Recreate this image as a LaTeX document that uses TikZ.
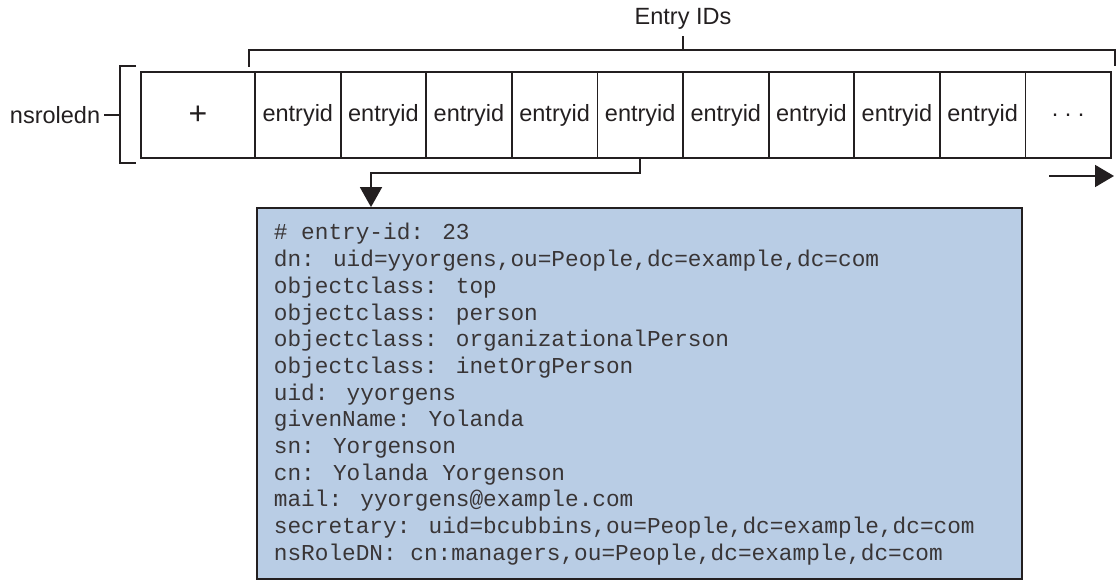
\documentclass[tikz,border=0pt]{standalone}
\usepackage{fontspec}
\setmainfont{Liberation Sans}
\newfontfamily\monofont{Liberation Mono}
\usetikzlibrary{arrows.meta}
\definecolor{ink}{RGB}{35,31,32}
\definecolor{boxblue}{RGB}{185,205,229}
\begin{document}
\begin{tikzpicture}[x=1pt,y=-1pt,
  line width=1.8pt, draw=ink,
  lbl/.style={font=\fontsize{23.5}{28}\selectfont, text=ink, inner sep=0pt},
  cellbox/.style={draw=ink, line width=1.8pt, minimum height=86pt, inner sep=0pt, font=\fontsize{23.5}{28}\selectfont, text=ink},
  idcell/.style={cellbox, minimum width=85.6pt},
  code/.style={font=\monofont\fontsize{22.75}{26.7}\selectfont, text=ink!90, inner sep=0pt, anchor=base west},
  conn/.style={draw=ink, line width=1.8pt},
  tip/.style={-{Triangle[length=20pt,width=22pt]}}
]
\useasboundingbox (0,0) rectangle (1117,580);

% row of cells
\node[cellbox, minimum width=114pt] (plus) at (198,115) {\fontsize{32}{36}\selectfont +};
\foreach \k in {1,...,9} {
  \node[idcell] (e\k) at ({255+85.6*(\k-1)+42.8},115) {entryid};
}
\node[idcell] (dots) at ({255+85.6*9+42.8},115) {.\ .\ .};

% left bracket and label
\coordinate (lb1) at (136,66);
\coordinate (lb2) at (120,66);
\coordinate (lb3) at (120,163);
\coordinate (lb4) at (136,163);
\coordinate (lbm) at (120,115);
\coordinate (lbt) at (104,115);
\draw[conn] (lb1) -- (lb2) -- (lb3) -- (lb4);
\node[lbl, anchor=east] (nsr) at (101,115) {nsroledn};
\draw[conn] (lbt) -- (lbm);

% top bracket and label
\coordinate (tb1) at (249,67);
\coordinate (tb2) at (249,50);
\coordinate (tb3) at (1115,50);
\coordinate (tb4) at (1115,66);
\coordinate (tbm) at (683,50);
\coordinate (tbt) at (683,36);
\draw[conn] (tb1) -- (tb2) -- (tb3) -- (tb4);
\draw[conn] (tbm) -- (tbt);
\node[lbl, anchor=base] (eids) at (683,25) {Entry IDs};

% entry box
\node[draw=ink, line width=1.8pt, fill=boxblue, minimum width=765pt, minimum height=371pt, inner sep=0pt] (rec) at (639.5,393.5) {};
\node[code] (l1) at (273,240) {\# entry-id: 23};
\node[code] (l2) at (273,266.7) {dn: uid=yyorgens,ou=People,dc=example,dc=com};
\node[code] (l3) at (273,293.3) {objectclass: top};
\node[code] (l4) at (273,320) {objectclass: person};
\node[code] (l5) at (273,346.7) {objectclass: organizationalPerson};
\node[code] (l6) at (273,373.3) {objectclass: inetOrgPerson};
\node[code] (l7) at (273,400) {uid: yyorgens};
\node[code] (l8) at (273,426.7) {givenName: Yolanda};
\node[code] (l9) at (273,453.3) {sn: Yorgenson};
\node[code] (l10) at (273,480) {cn: Yolanda Yorgenson};
\node[code] (l11) at (273,506.7) {mail: yyorgens@example.com};
\node[code] (l12) at (273,533.3) {secretary: uid=bcubbins,ou=People,dc=example,dc=com};
\node[code] (l13) at (273,560) {nsRoleDN: cn:managers,ou=People,dc=example,dc=com};

% connector from entry 5 to the box
\coordinate (turn) at (371,173);
\draw[conn, tip] (e5.south) |- (turn) -- (turn |- rec.north);

% direction arrow
\coordinate (ra1) at (1049,176);
\coordinate (ra2) at (1114,176);
\draw[conn, -{Triangle[length=19pt,width=22pt]}] (ra1) -- (ra2);
\end{tikzpicture}
\end{document}
